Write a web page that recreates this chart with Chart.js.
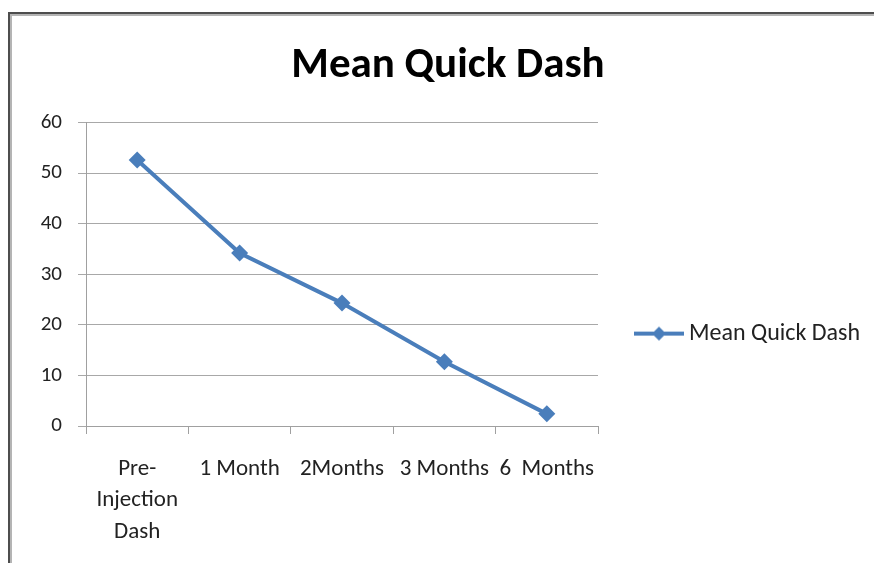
<!DOCTYPE html>
<html>
<head>
<meta charset="utf-8">
<script src="https://cdn.jsdelivr.net/npm/chart.js@4.4.1/dist/chart.umd.min.js"></script>
<style>
    html, body { margin: 0; padding: 0; background: #fff; overflow: hidden; }
    body { width: 874px; height: 563px; position: relative; }
    #frame {
        position: absolute; left: 8px; top: 12px; width: 900px; height: 600px;
        border-left: 2px solid #4d4d4d; border-top: 2px solid #4d4d4d;
        box-shadow: inset 2px 2px 0 #b4b4b4;
        pointer-events: none;
    }
    #wrap { position: absolute; top: 0; height: 563px; }
</style>
</head>
<body>
<div id="wrap"><canvas id="chart"></canvas></div>
<div id="frame"></div>
<script>
// Chart data
const chartTitle = 'Mean Quick Dash';
const seriesName = 'Mean Quick Dash';
const categories = [['Pre-', 'Injection', 'Dash'], '1 Month', '2Months', '3 Months', '6  Months'];
const meanQuickDash = [52.6, 34.2, 24.3, 12.7, 2.4];
const yTicks = [0, 10, 20, 30, 40, 50, 60];

const lineColor = '#4a7ebb';
const fontFamily = 'Calibri, Carlito, Lato, sans-serif';
const legendFontSize = 24;

// Page geometry
const plotLeft = 86, plotRight = 598, plotBottom = 426, titleCenter = 448;
const legendWidth = 266;     // legend column to the right of the plot
const legendBoxWidth = 79;   // gap between plot edge and legend text
const symbolCenter = 659;    // where the legend line+diamond sits

const canvasRight = plotRight + legendWidth;
const left = 2 * titleCenter - canvasRight;   // keeps the title centred at titleCenter

// Legend symbol: a short line with a diamond, drawn off-centre inside a wider image
function makeLegendSymbol() {
    const imgCenter = plotRight + legendBoxWidth / 2;
    const w = Math.ceil(2 * (symbolCenter + 25 - imgCenter));
    const c = document.createElement('canvas');
    c.width = w;
    c.height = 16;
    const g = c.getContext('2d');
    const mid = w / 2 + (symbolCenter - imgCenter);
    g.strokeStyle = lineColor;
    g.lineWidth = 4;
    g.beginPath();
    g.moveTo(mid - 25, 8);
    g.lineTo(mid + 25, 8);
    g.stroke();
    g.fillStyle = lineColor;
    g.beginPath();
    g.moveTo(mid, 1);
    g.lineTo(mid + 7, 8);
    g.lineTo(mid, 15);
    g.lineTo(mid - 7, 8);
    g.closePath();
    g.fill();
    return c;
}

const wrap = document.getElementById('wrap');
wrap.style.left = left + 'px';
wrap.style.width = (canvasRight - left) + 'px';

new Chart(document.getElementById('chart'), {
    type: 'line',
    data: {
        labels: categories,
        datasets: [{
            label: seriesName,
            data: meanQuickDash,
            borderColor: lineColor,
            backgroundColor: lineColor,
            borderWidth: 4,
            pointStyle: 'rectRot',
            pointRadius: 8.5,
            pointHoverRadius: 8.5,
            pointBorderWidth: 0,
            tension: 0
        }]
    },
    options: {
        responsive: true,
        maintainAspectRatio: false,
        animation: false,
        layout: { padding: 0 },
        plugins: {
            title: {
                display: true,
                text: chartTitle,
                color: '#000',
                font: { family: fontFamily, size: 43, weight: 'bold', lineHeight: 1.2 },
                padding: { top: 40, bottom: 31 }
            },
            legend: {
                display: true,
                position: 'right',
                align: 'start',
                fullSize: false,
                maxWidth: legendWidth,
                title: {
                    display: true,
                    text: '',
                    font: { size: 10, lineHeight: 1 },
                    padding: { top: 189, bottom: 0 }
                },
                labels: {
                    usePointStyle: true,
                    pointStyle: makeLegendSymbol(),
                    pointStyleWidth: legendBoxWidth,
                    padding: 0,
                    color: '#222',
                    font: { family: fontFamily, size: legendFontSize }
                }
            },
            tooltip: { enabled: false }
        },
        scales: {
            x: {
                offset: true,
                grid: {
                    offset: true,
                    drawOnChartArea: false,
                    drawTicks: true,
                    tickLength: 8,
                    color: '#a0a0a0'
                },
                border: { display: true, color: '#a0a0a0' },
                ticks: {
                    autoSkip: false,
                    maxRotation: 0,
                    minRotation: 0,
                    padding: 19,
                    color: '#222',
                    font: { family: fontFamily, size: 23, lineHeight: 1.37 }
                },
                afterFit: s => { s.height = 563 - plotBottom; }
            },
            y: {
                min: 0,
                max: 60,
                afterBuildTicks: s => { s.ticks = yTicks.map(v => ({ value: v })); },
                grid: {
                    color: '#a8a8a8',
                    tickLength: 8
                },
                border: { display: true, color: '#a0a0a0' },
                ticks: {
                    padding: 16,
                    color: '#222',
                    font: { family: fontFamily, size: 21 }
                },
                afterFit: s => { s.width = plotLeft - left; }
            }
        }
    }
});
</script>
</body>
</html>
